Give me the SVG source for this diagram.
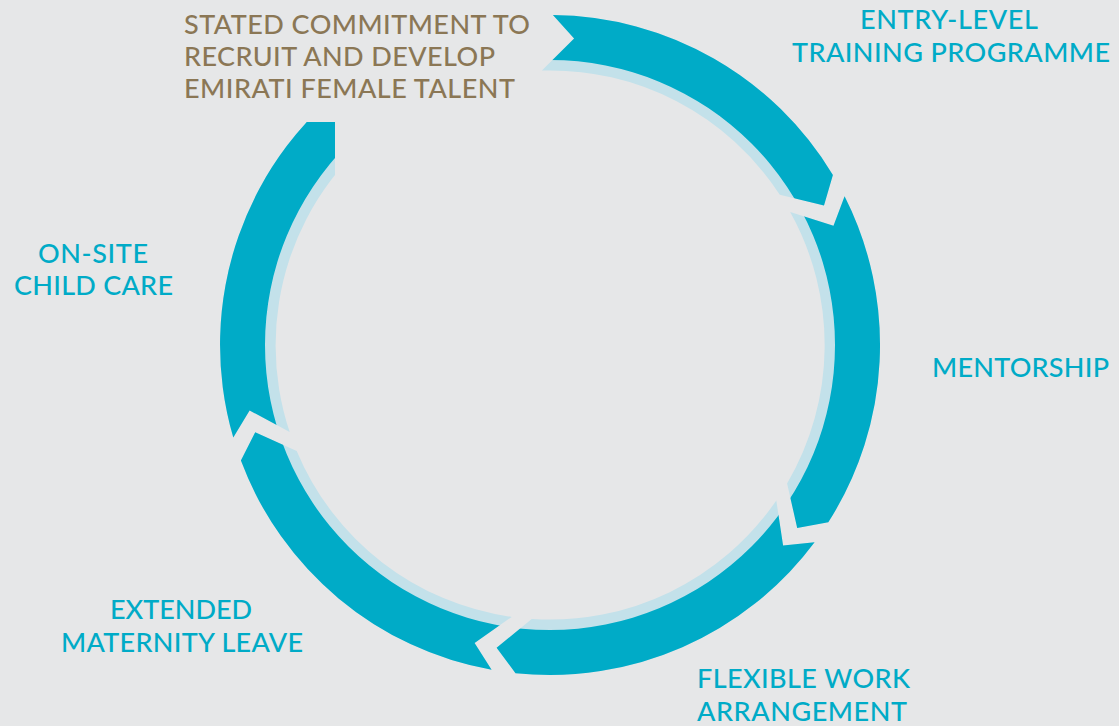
<svg xmlns="http://www.w3.org/2000/svg" xmlns:xlink="http://www.w3.org/1999/xlink" width="1119" height="726" viewBox="0 0 1119 726">
<style>
.bg{fill:#e6e7e8}
.shadow{fill:#c3e1ea}
.teal{fill:#00abc7}
.lbl{font-family:Lato,"Open Sans","Liberation Sans",sans-serif;font-size:27px;font-weight:500}
.brown{fill:#8b7755}
.blue{fill:#00abc7}
</style>
<defs>
<clipPath id="band">
<path clip-rule="evenodd" d="M0,0H1119V726H0Z M265,345 A285,285 0 1,0 835,345 A285,285 0 1,0 265,345 Z"/>
</clipPath>
<clipPath id="cut5">
<rect x="0" y="122" width="335" height="604"/>
</clipPath>
<path id="seg1" d="M552.9,15 A330,330 0 0,1 832.9,175 L824,205.4 L779.8,194.7 A274,274 0 0,0 541.9,70.6 L574.1,38.4 Z"/>
<path id="seg2" d="M844.6,196.2 A330,330 0 0,1 828.3,522.3 L797.2,527.9 L787.1,483.5 A274,274 0 0,0 790.2,212 L833.5,225.8 Z"/>
<path id="seg3" d="M814.6,542.2 A330,330 0 0,1 515.5,673.2 L496.6,647.8 L531.7,618.9 A274,274 0 0,0 776.3,500.5 L783.1,545.5 Z"/>
<path id="seg4" d="M491.6,669.8 A330,330 0 0,1 240.9,460.6 L255.2,432.3 L296.7,450.9 A274,274 0 0,0 511.7,616.9 L474.6,643.1 Z"/>
<path id="seg5" d="M233.3,437.6 A330,330 0 0,1 360.7,74.7 L392.8,120.6 A274,274 0 0,0 289.7,432.1 L249.6,410.5 Z"/>
</defs>
<rect class="bg" x="0" y="0" width="1119" height="726"/>
<g id="connectors">
<g id="arrow1"><use xlink:href="#seg1" class="shadow"/><use xlink:href="#seg1" class="teal" clip-path="url(#band)"/></g>
<g id="arrow2"><use xlink:href="#seg2" class="shadow"/><use xlink:href="#seg2" class="teal" clip-path="url(#band)"/></g>
<g id="arrow3"><use xlink:href="#seg3" class="shadow"/><use xlink:href="#seg3" class="teal" clip-path="url(#band)"/></g>
<g id="arrow4"><use xlink:href="#seg4" class="shadow"/><use xlink:href="#seg4" class="teal" clip-path="url(#band)"/></g>
<g id="arrow5" clip-path="url(#cut5)"><use xlink:href="#seg5" class="shadow"/><use xlink:href="#seg5" class="teal" clip-path="url(#band)"/></g>
</g>
<g id="node-commitment" class="lbl brown">
<text x="184" y="34" textLength="346" lengthAdjust="spacing">STATED COMMITMENT TO</text>
<text x="184" y="66" textLength="311" lengthAdjust="spacing">RECRUIT AND DEVELOP</text>
<text x="184" y="98" textLength="331" lengthAdjust="spacing">EMIRATI FEMALE TALENT</text>
</g>
<g id="node-training" class="lbl blue">
<text x="860" y="29" textLength="178" lengthAdjust="spacing">ENTRY-LEVEL</text>
<text x="792" y="62" textLength="318" lengthAdjust="spacing">TRAINING PROGRAMME</text>
</g>
<g id="node-mentorship" class="lbl blue">
<text x="932" y="377" textLength="177" lengthAdjust="spacing">MENTORSHIP</text>
</g>
<g id="node-flexible" class="lbl blue">
<text x="697" y="688" textLength="213" lengthAdjust="spacing">FLEXIBLE WORK</text>
<text x="697" y="721" textLength="210" lengthAdjust="spacing">ARRANGEMENT</text>
</g>
<g id="node-maternity" class="lbl blue">
<text x="110" y="619" textLength="142" lengthAdjust="spacing">EXTENDED</text>
<text x="61" y="652" textLength="242" lengthAdjust="spacing">MATERNITY LEAVE</text>
</g>
<g id="node-childcare" class="lbl blue">
<text x="38" y="263" textLength="110" lengthAdjust="spacing">ON-SITE</text>
<text x="14" y="295" textLength="159" lengthAdjust="spacing">CHILD CARE</text>
</g>
</svg>
